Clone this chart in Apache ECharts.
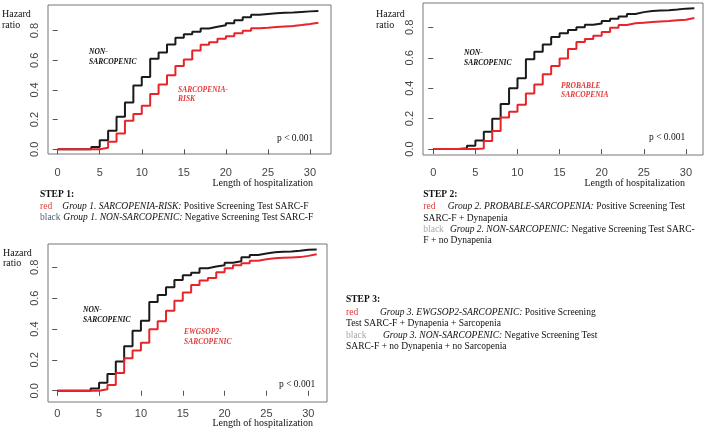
<!DOCTYPE html>
<html>
<head>
<meta charset="utf-8">
<title>Hazard ratio by length of hospitalization</title>
<script src="https://cdn.jsdelivr.net/npm/echarts@6/dist/echarts.min.js"></script>
<style>
    html, body { margin: 0; padding: 0; background: #fff; }
    #hazard_steps { width: 709px; height: 430px; }
</style>
</head>
<body>
<div id="hazard_steps"></div>
<script>

// Data
// ------------------------------

var days = [0, 1, 2, 3, 4, 5, 6, 7, 8, 9, 10, 11, 12, 13, 14, 15, 16, 17, 18, 19, 20, 21, 22, 23, 24, 25, 26, 27, 28, 29, 30, 31];
var xTicks = [0, 5, 10, 15, 20, 25, 30];
var yTicks = [0, 0.2, 0.4, 0.6, 0.8];

// Step 1: SARC-F screening
var step1NonSarcopenic = [0, 0, 0, 0, 0.015, 0.06, 0.125, 0.22, 0.315, 0.43, 0.487, 0.61, 0.653, 0.707, 0.752, 0.775, 0.793, 0.815, 0.826, 0.836, 0.85, 0.87, 0.89, 0.908, 0.913, 0.917, 0.92, 0.922, 0.926, 0.93, 0.932, 0.932];
var step1SarcopeniaRisk = [0, 0, 0, 0, 0, 0.01, 0.05, 0.106, 0.193, 0.238, 0.294, 0.373, 0.436, 0.5, 0.562, 0.606, 0.666, 0.705, 0.721, 0.745, 0.762, 0.782, 0.8, 0.817, 0.82, 0.824, 0.828, 0.832, 0.838, 0.845, 0.853, 0.853];

// Step 2: SARC-F + dynapenia
var step2NonSarcopenic = [0, 0, 0, 0.005, 0.022, 0.057, 0.114, 0.2, 0.296, 0.4, 0.465, 0.59, 0.64, 0.688, 0.737, 0.761, 0.783, 0.8, 0.817, 0.825, 0.842, 0.856, 0.871, 0.888, 0.9, 0.907, 0.91, 0.913, 0.917, 0.923, 0.926, 0.926];
var step2ProbableSarcopenia = [0, 0, 0, 0, 0, 0.003, 0.053, 0.118, 0.208, 0.246, 0.292, 0.366, 0.425, 0.491, 0.546, 0.596, 0.658, 0.704, 0.724, 0.744, 0.77, 0.798, 0.816, 0.827, 0.831, 0.835, 0.839, 0.842, 0.846, 0.85, 0.861, 0.861];

// Step 3: SARC-F + dynapenia + sarcopenia
var step3NonSarcopenic = [0, 0, 0, 0, 0.015, 0.052, 0.108, 0.19, 0.288, 0.389, 0.454, 0.575, 0.62, 0.67, 0.718, 0.748, 0.765, 0.794, 0.805, 0.813, 0.83, 0.839, 0.865, 0.88, 0.89, 0.897, 0.9, 0.903, 0.908, 0.914, 0.916, 0.916];
var step3Ewgsop2 = [0, 0, 0, 0, 0, 0.01, 0.037, 0.115, 0.21, 0.26, 0.311, 0.398, 0.45, 0.519, 0.584, 0.636, 0.685, 0.714, 0.731, 0.768, 0.794, 0.813, 0.826, 0.843, 0.852, 0.858, 0.862, 0.864, 0.866, 0.874, 0.885, 0.885];


// Setup module
// ------------------------------

var HazardSteps = function() {

    var _hazardStepsChart = function() {
        if (typeof echarts == 'undefined') {
            console.warn('Warning - echarts.min.js is not loaded.');
            return;
        }

        var element = document.getElementById('hazard_steps');
        if (!element) return;

        var chart = echarts.init(element, null, { renderer: 'canvas' });

        // Styles
        var serif = '"Liberation Serif", "Times New Roman", serif',
            sans = '"Liberation Sans", Arial, sans-serif',
            frameColor = '#777',
            tickColor = '#555',
            tickLabelColor = '#444',
            blackLine = '#1a1a1a',
            redLine = '#e8242b',
            redText = '#e23a3a';

        // Panel boxes (pixel layout of the three plots)
        var panels = [
            { left: 48,  top: 5,   width: 283, height: 149, xMin: -1.15, xMax: 32.5,  yMin: -0.032, yMax: 0.973,
              labelGap: 13, black: step1NonSarcopenic, red: step1SarcopeniaRisk },
            { left: 423, top: 3,   width: 280, height: 152, xMin: -1.22, xMax: 32.03, yMin: -0.039, yMax: 0.96,
              labelGap: 12, black: step2NonSarcopenic, red: step2ProbableSarcopenia },
            { left: 48,  top: 244, width: 279, height: 158, xMin: -1.1,  xMax: 32.23, yMin: -0.073, yMax: 0.951,
              labelGap: 6, black: step3NonSarcopenic, red: step3Ewgsop2 }
        ];

        var grids = [], xAxes = [], yAxes = [], series = [];

        panels.forEach(function(p, i) {
            grids.push({
                left: p.left, top: p.top, width: p.width, height: p.height,
                show: true, borderColor: frameColor, borderWidth: 1,
                containLabel: false
            });
            xAxes.push({
                gridIndex: i, type: 'value', min: p.xMin, max: p.xMax,
                axisLine: { show: false },
                splitLine: { show: false },
                axisTick: { show: true, length: 5, customValues: xTicks, lineStyle: { color: tickColor } },
                axisLabel: { customValues: xTicks, margin: p.labelGap, color: tickLabelColor, fontFamily: sans, fontSize: 11 }
            });
            yAxes.push({
                gridIndex: i, type: 'value', min: p.yMin, max: p.yMax,
                axisLine: { show: false },
                splitLine: { show: false },
                axisTick: { show: true, length: 5, customValues: yTicks, lineStyle: { color: tickColor } },
                axisLabel: {
                    customValues: yTicks, rotate: 90, margin: 8,
                    color: tickLabelColor, fontFamily: sans, fontSize: 11,
                    formatter: function(v) { return v.toFixed(1); }
                }
            });
            series.push({
                type: 'line', xAxisIndex: i, yAxisIndex: i, step: 'end',
                symbol: 'none', silent: true, z: 2,
                lineStyle: { width: 2, color: blackLine },
                data: days.map(function(d, k) { return [d, p.black[k]]; })
            });
            series.push({
                type: 'line', xAxisIndex: i, yAxisIndex: i, step: 'end',
                symbol: 'none', silent: true, z: 3,
                lineStyle: { width: 2, color: redLine },
                data: days.map(function(d, k) { return [d, p.red[k]]; })
            });
        });

        // Text helper
        var txt = function(x, y, text, o) {
            o = o || {};
            return {
                type: 'text', x: x, y: y, silent: true,
                style: {
                    text: text,
                    fill: o.fill || '#111',
                    fontFamily: o.family || serif,
                    fontSize: o.size || 9.5,
                    fontWeight: o.weight || 'normal',
                    fontStyle: o.style || 'normal',
                    textAlign: o.align || 'left',
                    textVerticalAlign: 'middle',
                    rich: {
                        i: { fontFamily: serif, fontSize: o.size || 9.5, fontStyle: 'italic', fill: '#111' }
                    }
                }
            };
        };
        var tag = { size: 7.5, weight: 'bold', style: 'italic' };
        var tagRed = { size: 7.5, weight: 'bold', style: 'italic', fill: redText };
        var axisTitle = { size: 10, align: 'right' };
        var hz = { size: 10 };

        var graphics = [
            // Panel 1
            txt(2, 14, 'Hazard', hz), txt(2, 25, 'ratio', hz),
            txt(89, 52, 'NON-', tag), txt(89, 62, 'SARCOPENIC', tag),
            txt(178, 90, 'SARCOPENIA-', tagRed), txt(178, 99.5, 'RISK', tagRed),
            txt(277, 138, 'p < 0.001', { size: 9.5 }),
            txt(313, 183, 'Length of hospitalization', axisTitle),

            // Panel 2
            txt(376, 14, 'Hazard', hz), txt(376, 25, 'ratio', hz),
            txt(464, 53.5, 'NON-', tag), txt(464, 63.5, 'SARCOPENIC', tag),
            txt(561, 86, 'PROBABLE', tagRed), txt(561, 95, 'SARCOPENIA', tagRed),
            txt(649, 137, 'p < 0.001', { size: 9.5 }),
            txt(685, 183, 'Length of hospitalization', axisTitle),

            // Panel 3
            txt(3, 253, 'Hazard', hz), txt(3, 263.5, 'ratio', hz),
            txt(83, 310, 'NON-', tag), txt(83, 320, 'SARCOPENIC', tag),
            txt(184, 332.5, 'EWGSOP2-', tagRed), txt(184, 342, 'SARCOPENIC', tagRed),
            txt(279, 384, 'p < 0.001', { size: 9.5 }),
            txt(313, 423.5, 'Length of hospitalization', axisTitle),

            // Step 1 caption
            txt(40, 195, 'STEP 1:', { weight: 'bold' }),
            txt(40, 206, 'red', { fill: redText }),
            txt(62.3, 206, '{i|Group 1. SARCOPENIA-RISK:} Positive Screening Test SARC-F'),
            txt(40, 217.5, 'black', { fill: '#4f5f78' }),
            txt(63.3, 217.5, '{i|Group 1. NON-SARCOPENIC:} Negative Screening Test SARC-F'),

            // Step 2 caption
            txt(423.3, 194.5, 'STEP 2:', { weight: 'bold' }),
            txt(423.3, 206.7, 'red', { fill: redText }),
            txt(447.7, 206.7, '{i|Group 2. PROBABLE-SARCOPENIA:} Positive Screening Test'),
            txt(423.3, 218.3, 'SARC-F + Dynapenia'),
            txt(423.3, 229.5, 'black', { fill: '#a8a8a8' }),
            txt(450, 229.5, '{i|Group 2. NON-SARCOPENIC:} Negative Screening Test SARC-'),
            txt(423.3, 240.5, 'F + no Dynapenia'),

            // Step 3 caption
            txt(346, 300, 'STEP 3:', { weight: 'bold' }),
            txt(346, 312, 'red', { fill: redText }),
            txt(380, 312, '{i|Group 3. EWGSOP2-SARCOPENIC:} Positive Screening'),
            txt(346, 323.5, 'Test SARC-F + Dynapenia + Sarcopenia'),
            txt(346, 335, 'black', { fill: '#a8a8a8' }),
            txt(383, 335, '{i|Group 3. NON-SARCOPENIC:} Negative Screening Test'),
            txt(346, 346.5, 'SARC-F + no Dynapenia + no Sarcopenia')
        ];

        // Options
        chart.setOption({
            animation: false,
            backgroundColor: '#fff',
            textStyle: { fontFamily: sans },
            grid: grids,
            xAxis: xAxes,
            yAxis: yAxes,
            series: series,
            graphic: { elements: graphics }
        });

        // Resize
        var resizeTimer;
        window.addEventListener('resize', function() {
            clearTimeout(resizeTimer);
            resizeTimer = setTimeout(function() { chart.resize(); }, 200);
        });
    };

    return {
        init: function() {
            _hazardStepsChart();
        }
    };
}();


// Initialize module
// ------------------------------

document.addEventListener('DOMContentLoaded', function() {
    HazardSteps.init();
});
</script>
</body>
</html>
